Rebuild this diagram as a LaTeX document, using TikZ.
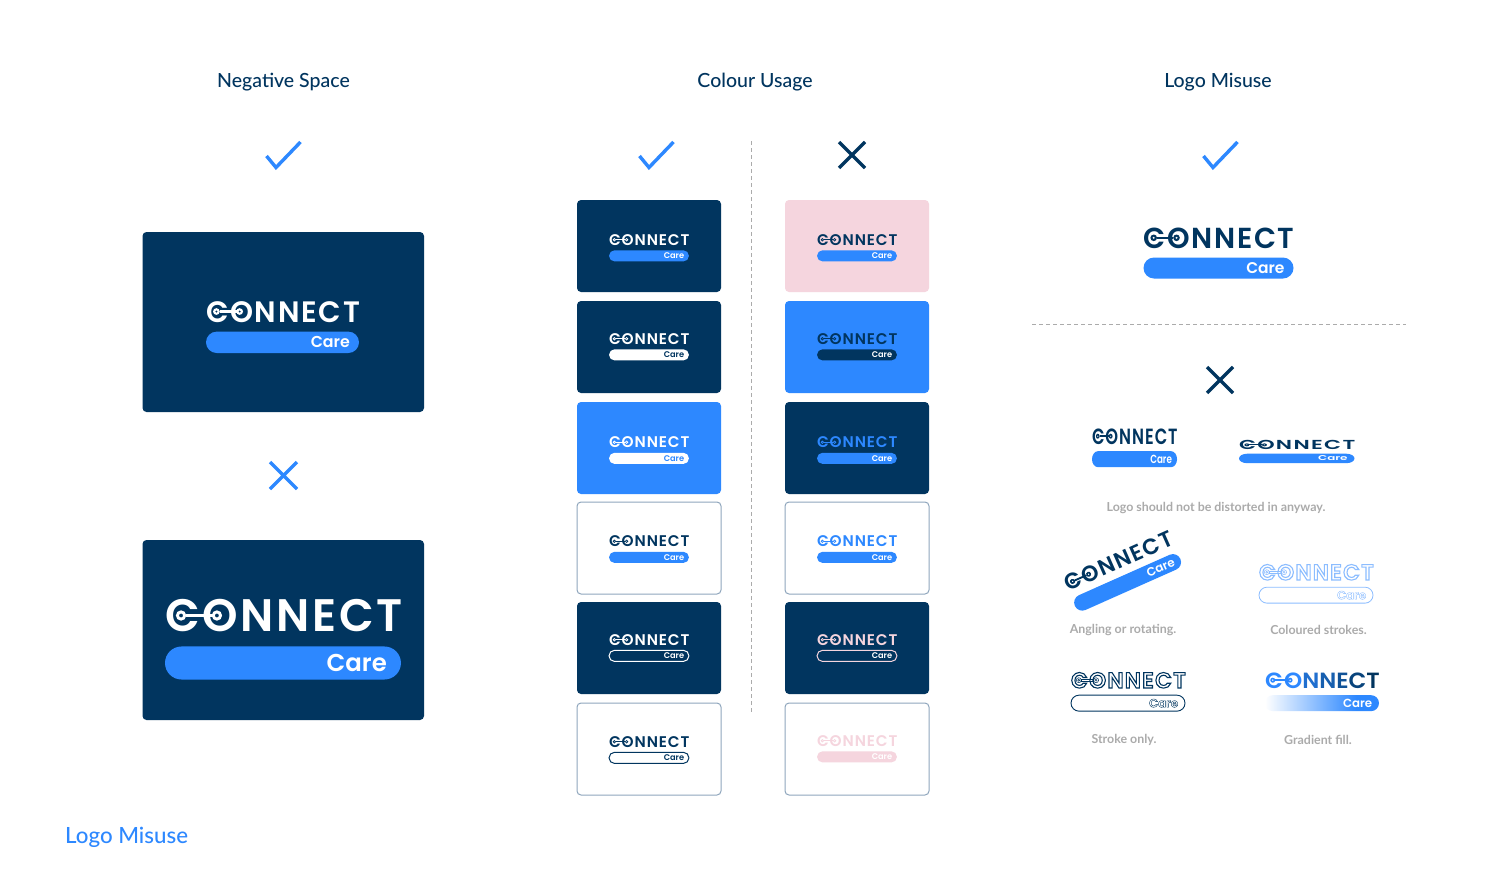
\documentclass[tikz,border=0pt]{standalone}
\usepackage{fontspec}
\usepackage{graphicx}
\setmainfont{Lato Medium}[BoldFont={Lato Bold}]
\newfontfamily\logofont[LetterSpace=6]{Poppins SemiBold}
\newfontfamily\carefont{Poppins SemiBold}
\definecolor{navy}{HTML}{01355F}
\definecolor{brand}{HTML}{2D88FF}
\definecolor{pinkish}{HTML}{F5D5DE}
\definecolor{capgrey}{HTML}{ABABAB}
\definecolor{edge}{HTML}{8FA6BD}
\definecolor{strokeblue}{HTML}{8CBDFF}
\pgfdeclarehorizontalshading{logograd}{100bp}{color(0bp)=(white);color(25bp)=(white);color(65bp)=(brand);color(100bp)=(brand)}
\newcommand{\outl}[1]{\special{pdf:code 1 Tr #1 w}}
\newcommand{\unoutl}{\special{pdf:code 0 Tr}}
% name, scope options, colour, word, pill style, care colour, text prefix, link style
\newcommand{\logo}[8]{%
  \begin{scope}[#2]
    \node[word] (#1w) at (0,-0.6) {\resizebox{151pt}{20.5pt}{\color{#3}\logofont #7#4\unoutl}};
    \path[#8,even odd rule] (10.2,-10.8) circle[radius=3.3] circle[radius=1.3] (33,-10.8) circle[radius=3.3] circle[radius=1.3];
    \path[#8] (13.3,-9.6) rectangle (29.9,-12);
    \path[#5] (10.5,-30.5) -- (139.5,-30.5) arc[start angle=90,end angle=-90,radius=10.5] -- (10.5,-51.5) arc[start angle=270,end angle=90,radius=10.5] -- cycle;
    \node[care] (#1c) at (141,-41) {\color{#6}\carefont #7Care\unoutl};
  \end{scope}}
\tikzset{
  x=1pt,y=1pt,
  word/.style={anchor=north west,inner sep=0pt,outer sep=0pt,transform shape},
  care/.style={anchor=east,inner sep=0pt,outer sep=0pt,transform shape,font=\fontsize{15.5pt}{17pt}\selectfont},
  title/.style={text=navy,font=\fontsize{19.5pt}{24pt}\selectfont},
  caption/.style={text=capgrey,font=\fontsize{12.4pt}{15pt}\selectfont\bfseries},
  okmark/.style={draw=brand,line width=3.4pt},
  nomark/.style={line width=3.4pt},
  sep/.style={draw=capgrey,line width=1pt,dash pattern=on 4pt off 3pt},
  cardnavy/.style={fill=navy,rounded corners=4pt},
  cardblue/.style={fill=brand,rounded corners=4pt},
  cardpink/.style={fill=pinkish,rounded corners=4pt},
  cardwhite/.style={draw=edge,line width=1pt,fill=white,rounded corners=4pt},
  small/.style={shift={(#1)},scale=0.533},
  lk/.style={fill=#1},
}
\begin{document}
\begin{tikzpicture}
\useasboundingbox (0,0) rectangle (1500,-884);
\fill[white] (0,0) rectangle (1500,-884);
% titles
\node[title] (t1) at (283.5,-82) {Negative Space};
\node[title] (t2) at (755,-82) {Colour Usage};
\node[title] (t3) at (1218,-82) {Logo Misuse};
\node[anchor=west,inner sep=0pt,text=brand,font=\fontsize{22.3pt}{26pt}\selectfont] (foot) at (65,-837.5) {Logo Misuse};
% marks
\draw[okmark] (266.5,-156) -- (276,-167.5) -- (300.5,-142);
\draw[okmark] (639.5,-156) -- (649,-167.5) -- (673.5,-142);
\draw[okmark] (1203.5,-156) -- (1213,-167.5) -- (1237.5,-142);
\draw[nomark,draw=brand] (270,-462) -- (297,-489) (297,-462) -- (270,-489);
\draw[nomark,draw=navy] (839,-142) -- (865,-168) (865,-142) -- (839,-168);
\draw[nomark,draw=navy] (1207,-367) -- (1233,-393) (1233,-367) -- (1207,-393);
% separators
\draw[sep] (751.5,-141) -- (751.5,-714);
\draw[sep] (1032,-324.5) -- (1406,-324.5);
% negative space
\path[cardnavy] (142.5,-232) rectangle (424,-412);
\path[cardnavy] (142.5,-540) rectangle (424,-720);
\logo{na}{shift={(206,-300.5)},scale=1.02}{white}{CONNECT}{fill=brand}{white}{}{lk=white}
\logo{nb}{shift={(165,-598.5)},scale=1.573}{white}{CONNECT}{fill=brand}{white}{}{lk=white}
% colour usage, left
\path[cardnavy] (577,-200) rectangle (721,-292);
\path[cardnavy] (577,-301) rectangle (721,-393);
\path[cardblue] (577,-402) rectangle (721,-494);
\path[cardwhite] (577,-502) rectangle (721,-594);
\path[cardnavy] (577,-602) rectangle (721,-694);
\path[cardwhite] (577,-703) rectangle (721,-795);
\logo{la}{small={609,-234}}{white}{CONNECT}{fill=brand}{white}{}{lk=white}
\logo{lb}{small={609,-333}}{white}{CONNECT}{fill=white}{navy}{}{lk=white}
\logo{lc}{small={609,-436.5}}{white}{CONNECT}{fill=white}{brand}{}{lk=white}
\logo{ld}{small={609,-535.5}}{navy}{CONNECT}{fill=brand}{white}{}{lk=navy}
\logo{le}{small={609,-634}}{white}{CONNECT}{draw=white,line width=1pt}{white}{}{lk=white}
\logo{lf}{small={609,-736}}{navy}{CONNECT}{draw=navy,line width=1pt}{navy}{}{lk=navy}
% colour usage, right
\path[cardpink] (785,-200) rectangle (929,-292);
\path[cardblue] (785,-301) rectangle (929,-393);
\path[cardnavy] (785,-402) rectangle (929,-494);
\path[cardwhite] (785,-502) rectangle (929,-594);
\path[cardnavy] (785,-602) rectangle (929,-694);
\path[cardwhite] (785,-703) rectangle (929,-795);
\logo{ra}{small={817,-234}}{navy}{CONNECT}{fill=brand}{white}{}{lk=navy}
\logo{rb}{small={817,-333}}{navy}{CONNECT}{fill=navy}{white}{}{lk=navy}
\logo{rc}{small={817,-436.5}}{brand}{CONNECT}{fill=brand}{white}{}{lk=brand}
\logo{rd}{small={817,-535.5}}{brand}{CONNECT}{fill=brand}{white}{}{lk=brand}
\logo{re}{small={817,-634}}{pinkish}{CONNECT}{draw=pinkish,line width=1pt}{white}{}{lk=pinkish}
\logo{rf}{small={817,-735}}{pinkish}{CONNECT}{fill=pinkish}{white}{}{lk=pinkish}
% logo misuse
\logo{ma}{shift={(1143.5,-227)}}{navy}{CONNECT}{fill=brand}{white}{}{lk=navy}
\logo{mb}{shift={(1092,-428)},xscale=.567,yscale=.76}{navy}{CONNECT}{fill=brand}{white}{}{lk=navy}
\logo{mc}{shift={(1239,-440)},xscale=.77,yscale=.45}{navy}{CONNECT}{fill=brand}{white}{}{lk=navy}
\logo{md}{shift={(1062,-577)},rotate=24,scale=.77}{navy}{CONNECT}{fill=brand}{white}{}{lk=navy}
\logo{me}{shift={(1259,-564)},scale=.76}{strokeblue}{CONNECT}{draw=strokeblue,line width=.8pt}{strokeblue}{\outl{0.5}}{draw=strokeblue,line width=.5pt}
\logo{mf}{shift={(1071,-672)},scale=.76}{navy}{CONNECT}{draw=navy,line width=.9pt}{navy}{\outl{0.5}}{draw=navy,line width=.5pt}
\logo{mg}{shift={(1265,-672)},scale=.76}{navy}{\textcolor{brand}{CO}\textcolor{brand!70!navy}{N}\textcolor{brand!50!navy}{N}\textcolor{brand!35!navy}{E}\textcolor{brand!18!navy}{C}T}{shading=logograd,shading angle=0}{white}{}{lk=brand}
% captions
\node[caption] (ca) at (1216,-508) {Logo should not be distorted in anyway.};
\node[caption] (cb) at (1123,-630) {Angling or rotating.};
\node[caption] (cc) at (1318.5,-630) {Coloured strokes.};
\node[caption] (cd) at (1124,-740) {Stroke only.};
\node[caption] (ce) at (1318,-740) {Gradient fill.};
\end{tikzpicture}
\end{document}
